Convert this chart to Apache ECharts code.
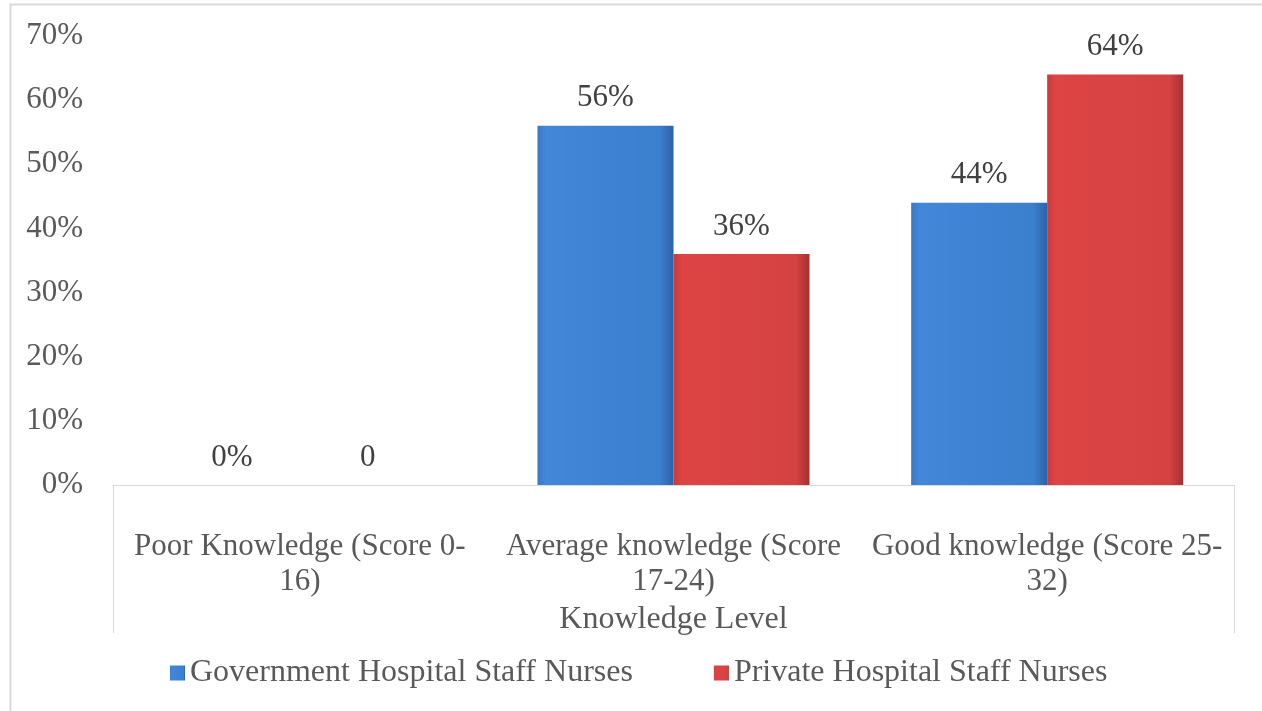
<!DOCTYPE html>
<html>
<head>
<meta charset="utf-8">
<script src="https://cdn.jsdelivr.net/npm/echarts@6/dist/echarts.min.js"></script>
<style>
  html, body { margin: 0; padding: 0; background: #fff; }
  #chart { width: 1262px; height: 711px; }
</style>
</head>
<body>
<div id="chart"></div>
<script>
// data
const categories = ['Poor Knowledge (Score 0-\n16)', 'Average knowledge (Score\n17-24)', 'Good knowledge (Score 25-\n32)'];
const govValues = [0, 56, 44];
const privValues = [0, 36, 64];
const govLabels = ['0%', '56%', '44%'];
const privLabels = ['0', '36%', '64%'];
const yTicks = [0, 10, 20, 30, 40, 50, 60, 70];

const FONT = '"Liberation Serif", "Times New Roman", serif';
const GRID = { left: 113, right: 28, top: 36, bottom: 226 };

const chart = echarts.init(document.getElementById('chart'));

const blue = new echarts.graphic.LinearGradient(0, 0, 1, 0, [
  { offset: 0, color: '#3a78c6' },
  { offset: 0.06, color: '#4287d8' },
  { offset: 0.9, color: '#3b7fcf' },
  { offset: 1, color: '#2c62a6' }
]);
const red = new echarts.graphic.LinearGradient(0, 0, 1, 0, [
  { offset: 0, color: '#c93a3a' },
  { offset: 0.06, color: '#dd4444' },
  { offset: 0.9, color: '#d54242' },
  { offset: 1, color: '#a53131' }
]);

const W = 1262, H = 711;
const axisY = H - GRID.bottom;

const option = {
  animation: false,
  textStyle: { fontFamily: FONT },
  grid: GRID,
  legend: {
    left: 165,
    top: 652,
    itemWidth: 15,
    itemHeight: 15,
    itemGap: 81,
    icon: 'rect',
    textStyle: { fontFamily: FONT, fontSize: 32, color: '#595959' },
    data: ['Government Hospital Staff Nurses', 'Private Hospital Staff Nurses']
  },
  xAxis: {
    type: 'category',
    data: categories,
    name: 'Knowledge Level',
    nameLocation: 'middle',
    nameGap: 116,
    nameTextStyle: { fontFamily: FONT, fontSize: 32, color: '#595959' },
    axisLine: { lineStyle: { color: '#d9d9d9', width: 1 } },
    axisTick: { show: false },
    axisLabel: { fontFamily: FONT, fontSize: 31, color: '#595959', margin: 44, lineHeight: 35, interval: 0 }
  },
  yAxis: {
    type: 'value',
    min: 0,
    max: 70,
    interval: 10,
    axisLine: { show: false },
    axisTick: { show: false },
    splitLine: { show: false },
    axisLabel: {
      fontFamily: FONT, fontSize: 31, color: '#595959', margin: 30,
      formatter: v => yTicks.includes(v) ? v + '%' : ''
    }
  },
  series: [
    {
      name: 'Government Hospital Staff Nurses',
      type: 'bar',
      data: govValues,
      barWidth: 136,
      barGap: '0%',
      itemStyle: { color: blue },
      label: {
        show: true, position: 'top', distance: 12,
        fontFamily: FONT, fontSize: 31, color: '#404040',
        formatter: p => govLabels[p.dataIndex]
      }
    },
    {
      name: 'Private Hospital Staff Nurses',
      type: 'bar',
      data: privValues,
      barWidth: 136,
      barGap: '0%',
      itemStyle: { color: red },
      label: {
        show: true, position: 'top', distance: 12,
        fontFamily: FONT, fontSize: 31, color: '#404040',
        formatter: p => privLabels[p.dataIndex]
      }
    }
  ],
  graphic: [
    // chart area border (cropped at right/bottom)
    { type: 'rect', shape: { x: 10.5, y: 4.5, width: W, height: H }, style: { fill: null, stroke: '#d9d9d9', lineWidth: 2 }, silent: true },
    // box around the category axis labels
    { type: 'line', shape: { x1: GRID.left + 0.5, y1: axisY, x2: GRID.left + 0.5, y2: 633 }, style: { stroke: '#d9d9d9', lineWidth: 1 }, silent: true },
    { type: 'line', shape: { x1: W - GRID.right + 0.5, y1: axisY, x2: W - GRID.right + 0.5, y2: 633 }, style: { stroke: '#d9d9d9', lineWidth: 1 }, silent: true }
  ]
};

chart.setOption(option);
</script>
</body>
</html>
